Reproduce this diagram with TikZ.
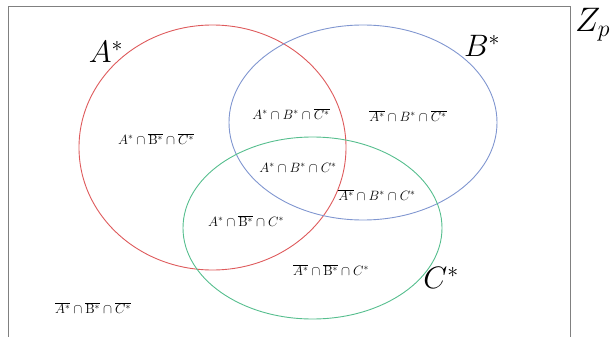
\RequirePackage{fix-cm}
\documentclass[tikz,border=0pt]{standalone}
\usepackage{xcolor}
\usepackage{tikz}
\usetikzlibrary{shapes.geometric}

\definecolor{setred}{RGB}{222,90,92}
\definecolor{setblue}{RGB}{128,150,208}
\definecolor{setgreen}{RGB}{86,190,142}

\begin{document}
\begin{tikzpicture}[
    x=1pt, y=-1pt,
    setshape/.style={draw, ellipse, line width=0.9pt, inner sep=0pt},
    region/.style={inner sep=0pt, font=\fontsize{13.5}{16}\selectfont},
    setname/.style={inner sep=0pt, font=\fontsize{31}{36}\selectfont},
]
\useasboundingbox (0,0) rectangle (610,337);
\node[draw=gray, line width=1pt, minimum width=562pt, minimum height=340pt, anchor=north west] (universe) at (8,6) {};
% the three sets
\node[setshape, draw=setred, minimum width=267pt, minimum height=245pt] (setA) at (212.5,147.5) {};
\node[setshape, draw=setblue, minimum width=268pt, minimum height=195pt] (setB) at (363,122.5) {};
\node[setshape, draw=setgreen, minimum width=259pt, minimum height=182pt] (setC) at (312.5,228) {};
\node[setname] (nameA) at (106,52) {$A^*$};
\node[setname] (nameB) at (482,46) {$B^*$};
\node[setname] (nameC) at (441,278) {$C^*$};
\node[setname, anchor=west, font=\fontsize{34}{38}\selectfont] (nameZ) at (575,25) {$Z_p$};
% regions
\node[region] (aOnly) at (156,139) {$A^*\cap\overline{\mathrm{B}^*}\cap\overline{C^*}$};
\node[region] (abOnly) at (291,114) {$A^*\cap B^*\cap\overline{C^*}$};
\node[region] (bOnly) at (408,116) {$\overline{A^*}\cap B^*\cap\overline{C^*}$};
\node[region] (abc) at (298,168) {$A^*\cap B^*\cap C^*$};
\node[region] (bcOnly) at (377,195) {$\overline{A^*}\cap B^*\cap C^*$};
\node[region] (acOnly) at (246,221) {$A^*\cap\overline{\mathrm{B}^*}\cap C^*$};
\node[region] (cOnly) at (331,270) {$\overline{A^*}\cap\overline{\mathrm{B}^*}\cap C^*$};
\node[region] (none) at (93,308) {$\overline{A^*}\cap\overline{\mathrm{B}^*}\cap\overline{C^*}$};
\end{tikzpicture}
\end{document}
